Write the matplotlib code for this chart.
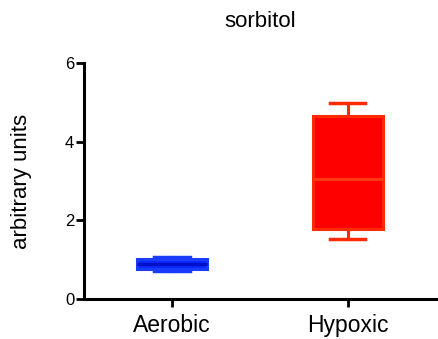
import matplotlib
matplotlib.use("Agg")
import matplotlib.pyplot as plt

plt.rcParams['font.family'] = ['Liberation Sans', 'DejaVu Sans']

groups = ['Aerobic', 'Hypoxic']
whislo = [0.71, 1.53]
q1 = [0.76, 1.77]
med = [0.88, 3.05]
q3 = [1.02, 4.65]
whishi = [1.06, 4.98]
fills = ['#0a28ff', '#ff0000']
edges = ['#1a3cff', '#ff2a00']
medcolors = ['#0010c8', '#ff3a10']


def main():
    fig = plt.figure(figsize=(4.38, 3.39), dpi=100)
    ax = fig.add_axes([0.192, 0.118, 0.803, 0.696])

    stats = [dict(label=g, whislo=lo, q1=a, med=m, q3=b, whishi=hi)
             for g, lo, a, m, b, hi in zip(groups, whislo, q1, med, q3, whishi)]

    for i, s in enumerate(stats):
        ax.bxp([s], positions=[i], widths=0.4, capwidths=0.2, showfliers=False,
               patch_artist=True,
               boxprops=dict(facecolor=fills[i], edgecolor=edges[i], linewidth=2.2),
               whiskerprops=dict(color=edges[i], linewidth=2.2),
               capprops=dict(color=edges[i], linewidth=2.5),
               medianprops=dict(color=medcolors[i], linewidth=2.2))

    ax.set_xlim(-0.5, 1.5)
    ax.set_ylim(0, 6)
    ax.set_yticks([0, 2, 4, 6])
    ax.set_xticks([0, 1])
    ax.set_xticklabels(groups, fontsize=16.5)
    ax.tick_params(axis='y', labelsize=12, width=2, length=6, pad=1)
    ax.tick_params(axis='x', width=2, length=6, pad=5)
    for side in ('top', 'right'):
        ax.spines[side].set_visible(False)
    for side in ('left', 'bottom'):
        ax.spines[side].set_linewidth(2.2)

    ax.set_ylabel('arbitrary units', fontsize=16, labelpad=24)
    ax.set_title('sorbitol', fontsize=16, pad=26)

    fig.savefig('out.png', dpi=100)


if __name__ == '__main__':
    main()
